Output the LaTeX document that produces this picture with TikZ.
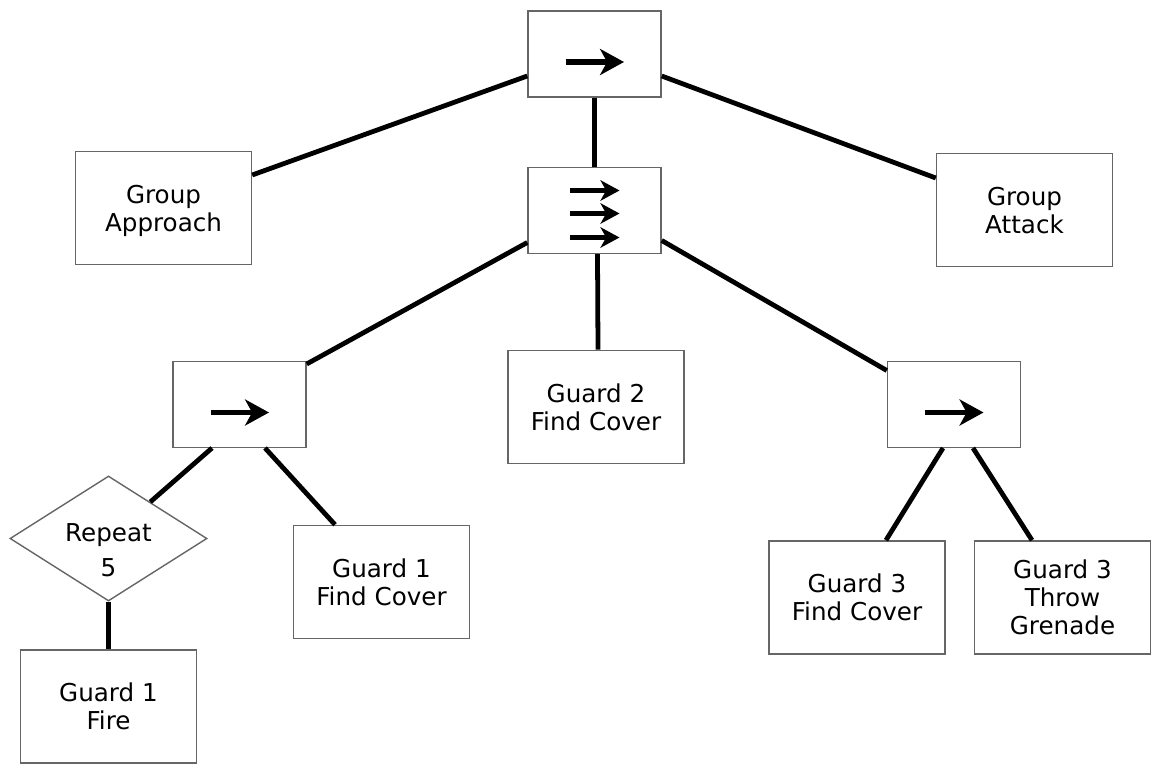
\documentclass[tikz,border=0pt]{standalone}
\usepackage{fontspec}
\setmainfont{DejaVu Sans}
\usetikzlibrary{shapes.geometric, arrows.meta}

\begin{document}
\begin{tikzpicture}[x=0.025cm, y=-0.025cm,
		box/.style={draw=black!60, line width=1pt, fill=white, align=center, inner sep=0pt,
			text depth=0pt, font=\fontsize{17.5}{19.85}\selectfont},
		seqbox/.style={box, minimum width=3.325cm, minimum height=2.14cm},
		taskbox/.style={box, minimum width=4.4cm, minimum height=2.83cm},
		repbox/.style={box, shape=diamond, aspect=1.576, inner xsep=-8pt,
			text height=1.89cm, minimum width=4.925cm, minimum height=3.125cm},
		edge/.style={line width=3.4pt},
		seqarrow/.style={line width=3.6pt, -{Stealth[length=17pt, width=18.5pt, inset=5pt]}},
		pararrow/.style={line width=2.9pt, -{Stealth[length=13.5pt, width=14.5pt, inset=4pt]}}]
		\useasboundingbox (0, 0) rectangle (1166, 781);
		
		% Composite nodes
		\node[seqbox] (seqtop) at (594.5, 54) {};
		\node[seqbox] (par) at (594.5, 210.5) {};
		\node[seqbox] (lseq) at (239.5, 404.5) {};
		\node[seqbox] (rseq) at (954, 404.5) {};
		\node[repbox] (rep) at (108.5, 538.5) {Repeat\\[5pt]5};
		
		% Task nodes
		\node[taskbox] (grpapp) at (163.5, 208) {Group\\Approach};
		\node[taskbox] (grpatt) at (1024.5, 210) {Group\\Attack};
		\node[taskbox] (grd2) at (596, 407) {Guard 2\\Find Cover};
		\node[taskbox] (fire) at (108.5, 706.5) {Guard 1\\Fire};
		\node[taskbox] (grd1) at (381.5, 582) {Guard 1\\Find Cover};
		\node[taskbox] (grd3) at (857, 597.5) {Guard 3\\Find Cover};
		\node[taskbox] (grenade) at (1062.5, 597.5) {Guard 3\\Throw\\Grenade};
		
		% Sequence and parallel marks
		\foreach \n in {seqtop, lseq, rseq}
			\draw[seqarrow] ([shift={(-29, 8)}]\n.center) -- ++(58.5, 0);
		\foreach \dy in {-20, 3, 27}
			\draw[pararrow] ([shift={(-24.5, \dy)}]par.center) -- ++(49.5, 0);
		
		% Tree edges
		\draw[edge] ([shift={(0, 22)}]seqtop.west) -- ([shift={(0, -33)}]grpapp.east);
		\draw[edge] ([shift={(0, 22)}]seqtop.east) -- ([shift={(0, -32)}]grpatt.west);
		\draw[edge] (seqtop.south) -- (par.north);
		\draw[edge] ([shift={(0, 32)}]par.west) -- ([shift={(0, 3)}]lseq.north east);
		\draw[edge] ([shift={(3, 0)}]par.south) -- ([shift={(2, 0)}]grd2.north);
		\draw[edge] ([shift={(0, 30)}]par.east) -- ([shift={(0, -34)}]rseq.west);
		\draw[edge] ([shift={(-27.5, 0)}]lseq.south) -- (rep);
		\draw[edge] ([shift={(25.5, 0)}]lseq.south) -- ([shift={(-46.5, 0)}]grd1.north);
		\draw[edge] (rep.south) -- (fire.north);
		\draw[edge] ([shift={(-11, 0)}]rseq.south) -- ([shift={(29, 0)}]grd3.north);
		\draw[edge] ([shift={(19, 0)}]rseq.south) -- ([shift={(-30.5, 0)}]grenade.north);
	\end{tikzpicture}
\end{document}
